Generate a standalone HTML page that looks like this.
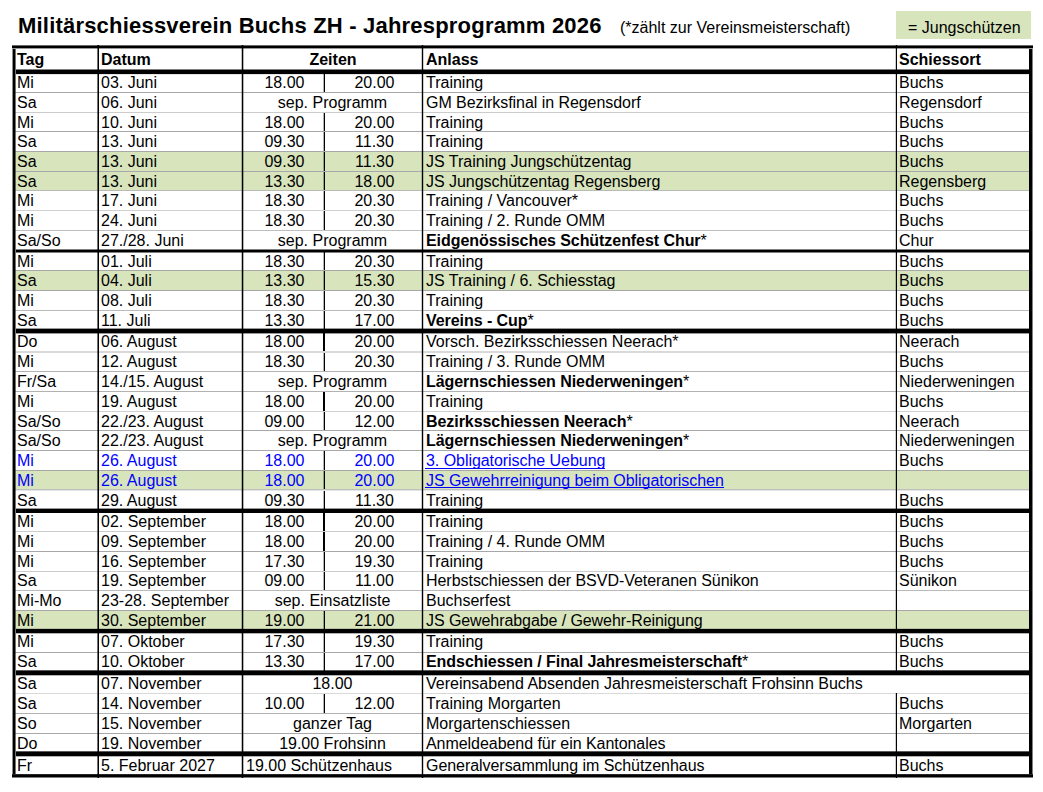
<!DOCTYPE html>
<html><head><meta charset="utf-8"><title>Jahresprogramm 2026</title>
<style>
html,body{margin:0;padding:0;background:#fff;}
body{width:1043px;height:792px;position:relative;overflow:hidden;font-family:'Liberation Sans', sans-serif;font-size:16px;line-height:20px;color:#000;}
body>div{position:absolute;white-space:nowrap;}
b{font-weight:bold;letter-spacing:-0.06px;}
.ul{position:relative;display:inline-block;}
.ul::after{content:"";position:absolute;left:-1px;right:0;top:var(--o);height:1px;background:#0000ff;}
</style></head><body>
<div style="left:18px;top:13px;font-size:22px;line-height:26px;font-weight:bold;letter-spacing:0.2px">Militärschiessverein Buchs ZH - Jahresprogramm 2026</div>
<div style="left:620px;top:18px;">(*zählt zur Vereinsmeisterschaft)</div>
<div style="left:896px;top:11px;width:135px;height:28px;background:#d8e4bc"></div>
<div style="left:908px;top:18px;">= Jungschützen</div>
<div style="left:15px;top:152px;width:1014px;height:19px;background:#d8e4bc"></div>
<div style="left:15px;top:172px;width:1014px;height:18px;background:#d8e4bc"></div>
<div style="left:15px;top:271px;width:1014px;height:19px;background:#d8e4bc"></div>
<div style="left:15px;top:471px;width:1014px;height:18px;background:#d8e4bc"></div>
<div style="left:15px;top:611px;width:1014px;height:18px;background:#d8e4bc"></div>
<div style="left:15px;top:92px;width:1014px;height:1px;background:rgba(0,0,0,0.34)"></div>
<div style="left:15px;top:112px;width:1014px;height:1px;background:rgba(0,0,0,0.2)"></div>
<div style="left:15px;top:131px;width:1014px;height:1px;background:rgba(0,0,0,0.34)"></div>
<div style="left:15px;top:151px;width:1014px;height:1px;background:rgba(0,0,0,0.34)"></div>
<div style="left:15px;top:171px;width:1014px;height:1px;background:rgba(0,0,0,0.34)"></div>
<div style="left:15px;top:190px;width:1014px;height:1px;background:rgba(0,0,0,0.27)"></div>
<div style="left:15px;top:210px;width:1014px;height:1px;background:rgba(0,0,0,0.18)"></div>
<div style="left:15px;top:230px;width:1014px;height:1px;background:rgba(0,0,0,0.25)"></div>
<div style="left:15px;top:270px;width:1014px;height:1px;background:rgba(0,0,0,0.34)"></div>
<div style="left:15px;top:290px;width:1014px;height:1px;background:rgba(0,0,0,0.34)"></div>
<div style="left:15px;top:310px;width:1014px;height:1px;background:rgba(0,0,0,0.27)"></div>
<div style="left:15px;top:351px;width:1014px;height:1px;background:rgba(0,0,0,0.15)"></div>
<div style="left:15px;top:352px;width:1014px;height:1px;background:rgba(0,0,0,0.15)"></div>
<div style="left:15px;top:371px;width:1014px;height:1px;background:rgba(0,0,0,0.3)"></div>
<div style="left:15px;top:391px;width:1014px;height:1px;background:rgba(0,0,0,0.3)"></div>
<div style="left:15px;top:411px;width:1014px;height:1px;background:rgba(0,0,0,0.18)"></div>
<div style="left:15px;top:430px;width:1014px;height:1px;background:rgba(0,0,0,0.34)"></div>
<div style="left:15px;top:450px;width:1014px;height:1px;background:rgba(0,0,0,0.34)"></div>
<div style="left:15px;top:470px;width:1014px;height:1px;background:rgba(0,0,0,0.34)"></div>
<div style="left:15px;top:489px;width:1014px;height:1px;background:rgba(0,0,0,0.25)"></div>
<div style="left:15px;top:490px;width:1014px;height:1px;background:rgba(0,0,0,0.1)"></div>
<div style="left:15px;top:531px;width:1014px;height:1px;background:rgba(0,0,0,0.2)"></div>
<div style="left:15px;top:551px;width:1014px;height:1px;background:rgba(0,0,0,0.34)"></div>
<div style="left:15px;top:571px;width:1014px;height:1px;background:rgba(0,0,0,0.2)"></div>
<div style="left:15px;top:590px;width:1014px;height:1px;background:rgba(0,0,0,0.27)"></div>
<div style="left:15px;top:610px;width:1014px;height:1px;background:rgba(0,0,0,0.34)"></div>
<div style="left:15px;top:652px;width:1014px;height:1px;background:rgba(0,0,0,0.34)"></div>
<div style="left:15px;top:693px;width:1014px;height:1px;background:rgba(0,0,0,0.15)"></div>
<div style="left:15px;top:713px;width:1014px;height:1px;background:rgba(0,0,0,0.3)"></div>
<div style="left:15px;top:733px;width:1014px;height:1px;background:rgba(0,0,0,0.34)"></div>
<div style="left:97px;top:45px;width:1px;height:733px;background:rgba(0,0,0,0.55)"></div>
<div style="left:98px;top:45px;width:1px;height:733px;background:#000"></div>
<div style="left:241px;top:45px;width:1px;height:733px;background:rgba(0,0,0,0.25)"></div>
<div style="left:242px;top:45px;width:1px;height:733px;background:#000"></div>
<div style="left:243px;top:45px;width:1px;height:733px;background:rgba(0,0,0,0.3)"></div>
<div style="left:422px;top:45px;width:1px;height:733px;background:#000"></div>
<div style="left:421px;top:45px;width:1px;height:733px;background:rgba(0,0,0,0.2)"></div>
<div style="left:423px;top:45px;width:1px;height:733px;background:rgba(0,0,0,0.2)"></div>
<div style="left:896px;top:45px;width:1px;height:630px;background:#000"></div>
<div style="left:896px;top:693px;width:1px;height:85px;background:#000"></div>
<div style="left:895px;top:45px;width:1px;height:630px;background:rgba(0,0,0,0.2)"></div>
<div style="left:895px;top:693px;width:1px;height:85px;background:rgba(0,0,0,0.2)"></div>
<div style="left:324px;top:74px;width:1px;height:18px;background:#000"></div>
<div style="left:323px;top:74px;width:1px;height:18px;background:rgba(0,0,0,0.3)"></div>
<div style="left:324px;top:113px;width:1px;height:18px;background:#000"></div>
<div style="left:323px;top:113px;width:1px;height:18px;background:rgba(0,0,0,0.3)"></div>
<div style="left:324px;top:132px;width:1px;height:19px;background:#000"></div>
<div style="left:323px;top:132px;width:1px;height:19px;background:rgba(0,0,0,0.3)"></div>
<div style="left:324px;top:152px;width:1px;height:19px;background:#000"></div>
<div style="left:323px;top:152px;width:1px;height:19px;background:rgba(0,0,0,0.3)"></div>
<div style="left:324px;top:172px;width:1px;height:18px;background:#000"></div>
<div style="left:323px;top:172px;width:1px;height:18px;background:rgba(0,0,0,0.3)"></div>
<div style="left:324px;top:191px;width:1px;height:19px;background:#000"></div>
<div style="left:323px;top:191px;width:1px;height:19px;background:rgba(0,0,0,0.3)"></div>
<div style="left:324px;top:211px;width:1px;height:19px;background:#000"></div>
<div style="left:323px;top:211px;width:1px;height:19px;background:rgba(0,0,0,0.3)"></div>
<div style="left:324px;top:252px;width:1px;height:18px;background:#000"></div>
<div style="left:323px;top:252px;width:1px;height:18px;background:rgba(0,0,0,0.3)"></div>
<div style="left:324px;top:271px;width:1px;height:19px;background:#000"></div>
<div style="left:323px;top:271px;width:1px;height:19px;background:rgba(0,0,0,0.3)"></div>
<div style="left:324px;top:291px;width:1px;height:19px;background:#000"></div>
<div style="left:323px;top:291px;width:1px;height:19px;background:rgba(0,0,0,0.3)"></div>
<div style="left:324px;top:311px;width:1px;height:18px;background:#000"></div>
<div style="left:323px;top:311px;width:1px;height:18px;background:rgba(0,0,0,0.3)"></div>
<div style="left:324px;top:333px;width:1px;height:18px;background:#000"></div>
<div style="left:323px;top:333px;width:1px;height:18px;background:#000"></div>
<div style="left:324px;top:353px;width:1px;height:18px;background:#000"></div>
<div style="left:323px;top:353px;width:1px;height:18px;background:rgba(0,0,0,0.3)"></div>
<div style="left:324px;top:392px;width:1px;height:19px;background:#000"></div>
<div style="left:323px;top:392px;width:1px;height:19px;background:#000"></div>
<div style="left:324px;top:412px;width:1px;height:18px;background:#000"></div>
<div style="left:323px;top:412px;width:1px;height:18px;background:rgba(0,0,0,0.3)"></div>
<div style="left:324px;top:451px;width:1px;height:19px;background:#000"></div>
<div style="left:323px;top:451px;width:1px;height:19px;background:rgba(0,0,0,0.3)"></div>
<div style="left:324px;top:471px;width:1px;height:18px;background:#000"></div>
<div style="left:323px;top:471px;width:1px;height:18px;background:rgba(0,0,0,0.3)"></div>
<div style="left:324px;top:491px;width:1px;height:18px;background:#000"></div>
<div style="left:323px;top:491px;width:1px;height:18px;background:rgba(0,0,0,0.3)"></div>
<div style="left:324px;top:513px;width:1px;height:18px;background:#000"></div>
<div style="left:323px;top:513px;width:1px;height:18px;background:#000"></div>
<div style="left:324px;top:532px;width:1px;height:19px;background:#000"></div>
<div style="left:323px;top:532px;width:1px;height:19px;background:#000"></div>
<div style="left:324px;top:552px;width:1px;height:19px;background:#000"></div>
<div style="left:323px;top:552px;width:1px;height:19px;background:rgba(0,0,0,0.3)"></div>
<div style="left:324px;top:572px;width:1px;height:18px;background:#000"></div>
<div style="left:323px;top:572px;width:1px;height:18px;background:rgba(0,0,0,0.3)"></div>
<div style="left:324px;top:611px;width:1px;height:18px;background:#000"></div>
<div style="left:323px;top:611px;width:1px;height:18px;background:rgba(0,0,0,0.3)"></div>
<div style="left:324px;top:633px;width:1px;height:19px;background:#000"></div>
<div style="left:323px;top:633px;width:1px;height:19px;background:rgba(0,0,0,0.3)"></div>
<div style="left:324px;top:653px;width:1px;height:18px;background:#000"></div>
<div style="left:323px;top:653px;width:1px;height:18px;background:rgba(0,0,0,0.3)"></div>
<div style="left:324px;top:694px;width:1px;height:19px;background:#000"></div>
<div style="left:323px;top:694px;width:1px;height:19px;background:rgba(0,0,0,0.3)"></div>
<div style="left:16px;top:69px;width:1013px;height:1px;background:rgba(0,0,0,0.5)"></div>
<div style="left:16px;top:70px;width:1013px;height:1px;background:#000"></div>
<div style="left:16px;top:71px;width:1013px;height:1px;background:#000"></div>
<div style="left:16px;top:72px;width:1013px;height:1px;background:#000"></div>
<div style="left:16px;top:73px;width:1013px;height:1px;background:#000"></div>
<div style="left:16px;top:74px;width:1013px;height:1px;background:rgba(0,0,0,0.1)"></div>
<div style="left:16px;top:249px;width:1013px;height:1px;background:rgba(0,0,0,0.5)"></div>
<div style="left:16px;top:250px;width:1013px;height:1px;background:#000"></div>
<div style="left:16px;top:251px;width:1013px;height:1px;background:#000"></div>
<div style="left:16px;top:252px;width:1013px;height:1px;background:rgba(0,0,0,0.5)"></div>
<div style="left:16px;top:328px;width:1013px;height:1px;background:rgba(0,0,0,0.4)"></div>
<div style="left:16px;top:329px;width:1013px;height:1px;background:#000"></div>
<div style="left:16px;top:330px;width:1013px;height:1px;background:#000"></div>
<div style="left:16px;top:331px;width:1013px;height:1px;background:#000"></div>
<div style="left:16px;top:332px;width:1013px;height:1px;background:#000"></div>
<div style="left:16px;top:333px;width:1013px;height:1px;background:rgba(0,0,0,0.4)"></div>
<div style="left:16px;top:508px;width:1013px;height:1px;background:rgba(0,0,0,0.4)"></div>
<div style="left:16px;top:509px;width:1013px;height:1px;background:#000"></div>
<div style="left:16px;top:510px;width:1013px;height:1px;background:#000"></div>
<div style="left:16px;top:511px;width:1013px;height:1px;background:#000"></div>
<div style="left:16px;top:512px;width:1013px;height:1px;background:#000"></div>
<div style="left:16px;top:628px;width:1013px;height:1px;background:rgba(0,0,0,0.15)"></div>
<div style="left:16px;top:629px;width:1013px;height:1px;background:#000"></div>
<div style="left:16px;top:630px;width:1013px;height:1px;background:#000"></div>
<div style="left:16px;top:631px;width:1013px;height:1px;background:#000"></div>
<div style="left:16px;top:632px;width:1013px;height:1px;background:#000"></div>
<div style="left:16px;top:633px;width:1013px;height:1px;background:rgba(0,0,0,0.3)"></div>
<div style="left:16px;top:670px;width:1013px;height:1px;background:rgba(0,0,0,0.65)"></div>
<div style="left:16px;top:671px;width:1013px;height:1px;background:#000"></div>
<div style="left:16px;top:672px;width:1013px;height:1px;background:#000"></div>
<div style="left:16px;top:673px;width:1013px;height:1px;background:#000"></div>
<div style="left:16px;top:674px;width:1013px;height:1px;background:#000"></div>
<div style="left:16px;top:675px;width:1013px;height:1px;background:rgba(0,0,0,0.3)"></div>
<div style="left:16px;top:751px;width:1013px;height:1px;background:rgba(0,0,0,0.65)"></div>
<div style="left:16px;top:752px;width:1013px;height:1px;background:#000"></div>
<div style="left:16px;top:753px;width:1013px;height:1px;background:#000"></div>
<div style="left:16px;top:754px;width:1013px;height:1px;background:#000"></div>
<div style="left:16px;top:755px;width:1013px;height:1px;background:#000"></div>
<div style="left:16px;top:756px;width:1013px;height:1px;background:rgba(0,0,0,0.3)"></div>
<div style="left:12px;top:45px;width:1021px;height:1px;background:rgba(0,0,0,0.6)"></div>
<div style="left:12px;top:46px;width:1021px;height:1px;background:#000"></div>
<div style="left:12px;top:47px;width:1021px;height:1px;background:#000"></div>
<div style="left:12px;top:48px;width:1021px;height:1px;background:rgba(0,0,0,0.4)"></div>
<div style="left:12px;top:774px;width:1021px;height:1px;background:rgba(0,0,0,0.85)"></div>
<div style="left:12px;top:775px;width:1021px;height:1px;background:#000"></div>
<div style="left:12px;top:776px;width:1021px;height:1px;background:#000"></div>
<div style="left:12px;top:777px;width:1021px;height:1px;background:rgba(0,0,0,0.5)"></div>
<div style="left:12px;top:49px;width:1px;height:725px;background:rgba(0,0,0,0.45)"></div>
<div style="left:13px;top:49px;width:1px;height:725px;background:#000"></div>
<div style="left:14px;top:49px;width:1px;height:725px;background:#000"></div>
<div style="left:15px;top:49px;width:1px;height:725px;background:rgba(0,0,0,0.55)"></div>
<div style="left:1029px;top:49px;width:1px;height:725px;background:#000"></div>
<div style="left:1030px;top:49px;width:1px;height:725px;background:#000"></div>
<div style="left:1031px;top:49px;width:1px;height:725px;background:#000"></div>
<div style="left:1032px;top:49px;width:1px;height:725px;background:rgba(0,0,0,0.5)"></div>
<div style="left:17px;top:50px;font-weight:bold;">Tag</div>
<div style="left:101px;top:50px;font-weight:bold;">Datum</div>
<div style="left:243px;top:50px;width:180px;text-align:center;font-weight:bold;">Zeiten</div>
<div style="left:426px;top:50px;font-weight:bold;">Anlass</div>
<div style="left:899px;top:50px;font-weight:bold;">Schiessort</div>
<div style="left:17px;top:73px;">Mi</div>
<div style="left:101px;top:73px;">03. Juni</div>
<div style="left:244px;top:73px;width:81px;text-align:center;">18.00</div>
<div style="left:326px;top:73px;width:97px;text-align:center;">20.00</div>
<div style="left:426px;top:73px;">Training</div>
<div style="left:899px;top:73px;">Buchs</div>
<div style="left:17px;top:93px;">Sa</div>
<div style="left:101px;top:93px;">06. Juni</div>
<div style="left:243px;top:93px;width:179px;text-align:center;">sep. Programm</div>
<div style="left:426px;top:93px;letter-spacing:-0.05px">GM Bezirksfinal in Regensdorf</div>
<div style="left:899px;top:93px;">Regensdorf</div>
<div style="left:17px;top:113px;">Mi</div>
<div style="left:101px;top:113px;">10. Juni</div>
<div style="left:244px;top:113px;width:81px;text-align:center;">18.00</div>
<div style="left:326px;top:113px;width:97px;text-align:center;">20.00</div>
<div style="left:426px;top:113px;">Training</div>
<div style="left:899px;top:113px;">Buchs</div>
<div style="left:17px;top:132px;">Sa</div>
<div style="left:101px;top:132px;">13. Juni</div>
<div style="left:244px;top:132px;width:81px;text-align:center;">09.30</div>
<div style="left:326px;top:132px;width:97px;text-align:center;">11.30</div>
<div style="left:426px;top:132px;">Training</div>
<div style="left:899px;top:132px;">Buchs</div>
<div style="left:17px;top:152px;">Sa</div>
<div style="left:101px;top:152px;">13. Juni</div>
<div style="left:244px;top:152px;width:81px;text-align:center;">09.30</div>
<div style="left:326px;top:152px;width:97px;text-align:center;">11.30</div>
<div style="left:426px;top:152px;">JS Training Jungschützentag</div>
<div style="left:899px;top:152px;">Buchs</div>
<div style="left:17px;top:172px;">Sa</div>
<div style="left:101px;top:172px;">13. Juni</div>
<div style="left:244px;top:172px;width:81px;text-align:center;">13.30</div>
<div style="left:326px;top:172px;width:97px;text-align:center;">18.00</div>
<div style="left:426px;top:172px;letter-spacing:-0.045px">JS Jungschützentag Regensberg</div>
<div style="left:899px;top:172px;">Regensberg</div>
<div style="left:17px;top:191px;">Mi</div>
<div style="left:101px;top:191px;">17. Juni</div>
<div style="left:244px;top:191px;width:81px;text-align:center;">18.30</div>
<div style="left:326px;top:191px;width:97px;text-align:center;">20.30</div>
<div style="left:426px;top:191px;">Training / Vancouver*</div>
<div style="left:899px;top:191px;">Buchs</div>
<div style="left:17px;top:211px;">Mi</div>
<div style="left:101px;top:211px;">24. Juni</div>
<div style="left:244px;top:211px;width:81px;text-align:center;">18.30</div>
<div style="left:326px;top:211px;width:97px;text-align:center;">20.30</div>
<div style="left:426px;top:211px;">Training / 2. Runde OMM</div>
<div style="left:899px;top:211px;">Buchs</div>
<div style="left:17px;top:231px;">Sa/So</div>
<div style="left:101px;top:231px;">27./28. Juni</div>
<div style="left:243px;top:231px;width:179px;text-align:center;">sep. Programm</div>
<div style="left:426px;top:231px;"><b>Eidgenössisches Schützenfest Chur</b>*</div>
<div style="left:899px;top:231px;">Chur</div>
<div style="left:17px;top:252px;">Mi</div>
<div style="left:101px;top:252px;">01. Juli</div>
<div style="left:244px;top:252px;width:81px;text-align:center;">18.30</div>
<div style="left:326px;top:252px;width:97px;text-align:center;">20.30</div>
<div style="left:426px;top:252px;">Training</div>
<div style="left:899px;top:252px;">Buchs</div>
<div style="left:17px;top:271px;">Sa</div>
<div style="left:101px;top:271px;">04. Juli</div>
<div style="left:244px;top:271px;width:81px;text-align:center;">13.30</div>
<div style="left:326px;top:271px;width:97px;text-align:center;">15.30</div>
<div style="left:426px;top:271px;">JS Training / 6. Schiesstag</div>
<div style="left:899px;top:271px;">Buchs</div>
<div style="left:17px;top:291px;">Mi</div>
<div style="left:101px;top:291px;">08. Juli</div>
<div style="left:244px;top:291px;width:81px;text-align:center;">18.30</div>
<div style="left:326px;top:291px;width:97px;text-align:center;">20.30</div>
<div style="left:426px;top:291px;">Training</div>
<div style="left:899px;top:291px;">Buchs</div>
<div style="left:17px;top:311px;">Sa</div>
<div style="left:101px;top:311px;">11. Juli</div>
<div style="left:244px;top:311px;width:81px;text-align:center;">13.30</div>
<div style="left:326px;top:311px;width:97px;text-align:center;">17.00</div>
<div style="left:426px;top:311px;"><b>Vereins - Cup</b>*</div>
<div style="left:899px;top:311px;">Buchs</div>
<div style="left:17px;top:332px;">Do</div>
<div style="left:101px;top:332px;">06. August</div>
<div style="left:244px;top:332px;width:81px;text-align:center;">18.00</div>
<div style="left:326px;top:332px;width:97px;text-align:center;">20.00</div>
<div style="left:426px;top:332px;">Vorsch. Bezirksschiessen Neerach*</div>
<div style="left:899px;top:332px;">Neerach</div>
<div style="left:17px;top:352px;">Mi</div>
<div style="left:101px;top:352px;">12. August</div>
<div style="left:244px;top:352px;width:81px;text-align:center;">18.30</div>
<div style="left:326px;top:352px;width:97px;text-align:center;">20.30</div>
<div style="left:426px;top:352px;">Training / 3. Runde OMM</div>
<div style="left:899px;top:352px;">Buchs</div>
<div style="left:17px;top:372px;">Fr/Sa</div>
<div style="left:101px;top:372px;">14./15. August</div>
<div style="left:243px;top:372px;width:179px;text-align:center;">sep. Programm</div>
<div style="left:426px;top:372px;"><b>Lägernschiessen Niederweningen</b>*</div>
<div style="left:899px;top:372px;">Niederweningen</div>
<div style="left:17px;top:392px;">Mi</div>
<div style="left:101px;top:392px;">19. August</div>
<div style="left:244px;top:392px;width:81px;text-align:center;">18.00</div>
<div style="left:326px;top:392px;width:97px;text-align:center;">20.00</div>
<div style="left:426px;top:392px;">Training</div>
<div style="left:899px;top:392px;">Buchs</div>
<div style="left:17px;top:412px;">Sa/So</div>
<div style="left:101px;top:412px;">22./23. August</div>
<div style="left:244px;top:412px;width:81px;text-align:center;">09.00</div>
<div style="left:326px;top:412px;width:97px;text-align:center;">12.00</div>
<div style="left:426px;top:412px;"><b>Bezirksschiessen Neerach</b>*</div>
<div style="left:899px;top:412px;">Neerach</div>
<div style="left:17px;top:431px;">Sa/So</div>
<div style="left:101px;top:431px;">22./23. August</div>
<div style="left:243px;top:431px;width:179px;text-align:center;">sep. Programm</div>
<div style="left:426px;top:431px;"><b>Lägernschiessen Niederweningen</b>*</div>
<div style="left:899px;top:431px;">Niederweningen</div>
<div style="left:17px;top:451px;color:#0000ff;">Mi</div>
<div style="left:101px;top:451px;color:#0000ff;">26. August</div>
<div style="left:244px;top:451px;width:81px;text-align:center;color:#0000ff;">18.00</div>
<div style="left:326px;top:451px;width:97px;text-align:center;color:#0000ff;">20.00</div>
<div style="left:426px;top:451px;color:#0000ff;letter-spacing:-0.05px"><span class="ul" style="--o:17px">3. Obligatorische Uebung</span></div>
<div style="left:899px;top:451px;">Buchs</div>
<div style="left:17px;top:471px;color:#0000ff;">Mi</div>
<div style="left:101px;top:471px;color:#0000ff;">26. August</div>
<div style="left:244px;top:471px;width:81px;text-align:center;color:#0000ff;">18.00</div>
<div style="left:326px;top:471px;width:97px;text-align:center;color:#0000ff;">20.00</div>
<div style="left:426px;top:471px;color:#0000ff;letter-spacing:-0.05px"><span class="ul" style="--o:16px">JS Gewehrreinigung beim Obligatorischen</span></div>
<div style="left:17px;top:491px;">Sa</div>
<div style="left:101px;top:491px;">29. August</div>
<div style="left:244px;top:491px;width:81px;text-align:center;">09.30</div>
<div style="left:326px;top:491px;width:97px;text-align:center;">11.30</div>
<div style="left:426px;top:491px;">Training</div>
<div style="left:899px;top:491px;">Buchs</div>
<div style="left:17px;top:512px;">Mi</div>
<div style="left:101px;top:512px;">02. September</div>
<div style="left:244px;top:512px;width:81px;text-align:center;">18.00</div>
<div style="left:326px;top:512px;width:97px;text-align:center;">20.00</div>
<div style="left:426px;top:512px;">Training</div>
<div style="left:899px;top:512px;">Buchs</div>
<div style="left:17px;top:532px;">Mi</div>
<div style="left:101px;top:532px;">09. September</div>
<div style="left:244px;top:532px;width:81px;text-align:center;">18.00</div>
<div style="left:326px;top:532px;width:97px;text-align:center;">20.00</div>
<div style="left:426px;top:532px;">Training / 4. Runde OMM</div>
<div style="left:899px;top:532px;">Buchs</div>
<div style="left:17px;top:552px;">Mi</div>
<div style="left:101px;top:552px;">16. September</div>
<div style="left:244px;top:552px;width:81px;text-align:center;">17.30</div>
<div style="left:326px;top:552px;width:97px;text-align:center;">19.30</div>
<div style="left:426px;top:552px;">Training</div>
<div style="left:899px;top:552px;">Buchs</div>
<div style="left:17px;top:571px;">Sa</div>
<div style="left:101px;top:571px;">19. September</div>
<div style="left:244px;top:571px;width:81px;text-align:center;">09.00</div>
<div style="left:326px;top:571px;width:97px;text-align:center;">11.00</div>
<div style="left:426px;top:571px;letter-spacing:-0.04px">Herbstschiessen der BSVD-Veteranen Sünikon</div>
<div style="left:899px;top:571px;">Sünikon</div>
<div style="left:17px;top:591px;">Mi-Mo</div>
<div style="left:101px;top:591px;">23-28. September</div>
<div style="left:243px;top:591px;width:179px;text-align:center;">sep. Einsatzliste</div>
<div style="left:426px;top:591px;">Buchserfest</div>
<div style="left:17px;top:611px;">Mi</div>
<div style="left:101px;top:611px;">30. September</div>
<div style="left:244px;top:611px;width:81px;text-align:center;">19.00</div>
<div style="left:326px;top:611px;width:97px;text-align:center;">21.00</div>
<div style="left:426px;top:611px;letter-spacing:-0.08px">JS Gewehrabgabe / Gewehr-Reinigung</div>
<div style="left:17px;top:632px;">Mi</div>
<div style="left:101px;top:632px;">07. Oktober</div>
<div style="left:244px;top:632px;width:81px;text-align:center;">17.30</div>
<div style="left:326px;top:632px;width:97px;text-align:center;">19.30</div>
<div style="left:426px;top:632px;">Training</div>
<div style="left:899px;top:632px;">Buchs</div>
<div style="left:17px;top:652px;">Sa</div>
<div style="left:101px;top:652px;">10. Oktober</div>
<div style="left:244px;top:652px;width:81px;text-align:center;">13.30</div>
<div style="left:326px;top:652px;width:97px;text-align:center;">17.00</div>
<div style="left:426px;top:652px;"><b>Endschiessen / Final Jahresmeisterschaft</b>*</div>
<div style="left:899px;top:652px;">Buchs</div>
<div style="left:17px;top:674px;">Sa</div>
<div style="left:101px;top:674px;">07. November</div>
<div style="left:243px;top:674px;width:179px;text-align:center;">18.00</div>
<div style="left:426px;top:674px;">Vereinsabend Absenden Jahresmeisterschaft Frohsinn Buchs</div>
<div style="left:17px;top:694px;">Sa</div>
<div style="left:101px;top:694px;">14. November</div>
<div style="left:244px;top:694px;width:81px;text-align:center;">10.00</div>
<div style="left:326px;top:694px;width:97px;text-align:center;">12.00</div>
<div style="left:426px;top:694px;">Training Morgarten</div>
<div style="left:899px;top:694px;">Buchs</div>
<div style="left:17px;top:714px;">So</div>
<div style="left:101px;top:714px;">15. November</div>
<div style="left:243px;top:714px;width:179px;text-align:center;">ganzer Tag</div>
<div style="left:426px;top:714px;">Morgartenschiessen</div>
<div style="left:899px;top:714px;">Morgarten</div>
<div style="left:17px;top:734px;">Do</div>
<div style="left:101px;top:734px;">19. November</div>
<div style="left:243px;top:734px;width:179px;text-align:center;">19.00 Frohsinn</div>
<div style="left:426px;top:734px;letter-spacing:-0.05px">Anmeldeabend für ein Kantonales</div>
<div style="left:17px;top:756px;">Fr</div>
<div style="left:101px;top:756px;">5. Februar 2027</div>
<div style="left:246px;top:756px;">19.00 Schützenhaus</div>
<div style="left:426px;top:756px;letter-spacing:-0.05px">Generalversammlung im Schützenhaus</div>
<div style="left:899px;top:756px;">Buchs</div>
</body></html>
